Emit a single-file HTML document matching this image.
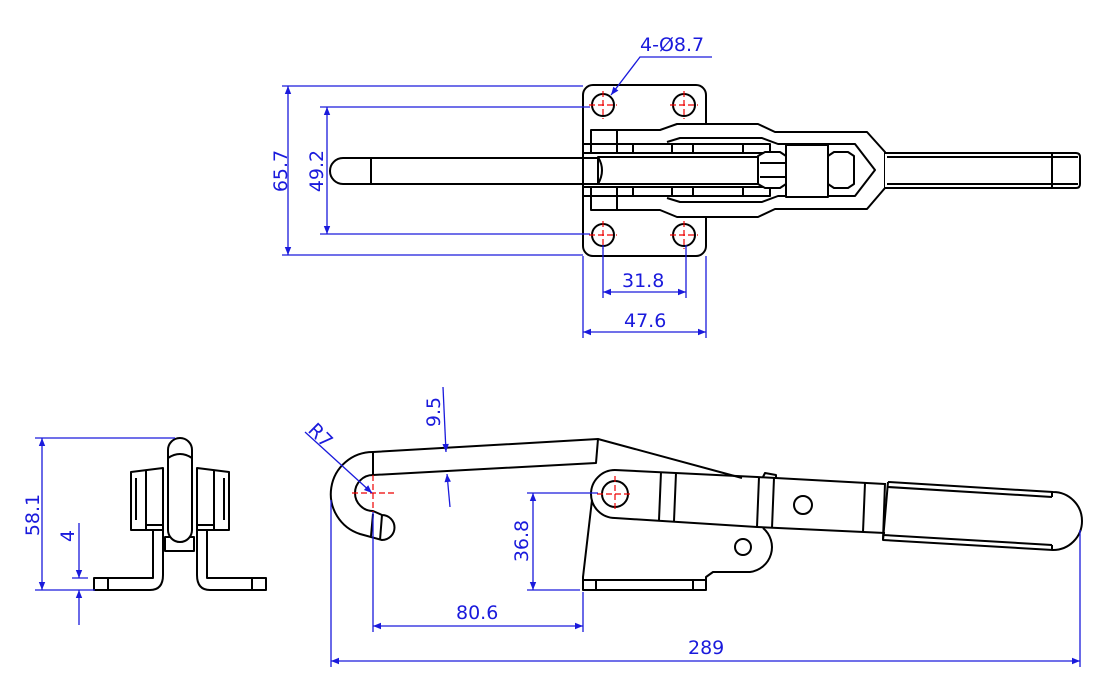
<!DOCTYPE html>
<html><head><meta charset="utf-8"><style>
html,body{margin:0;padding:0;background:#fff;}
svg{display:block;}
text{font-family:"DejaVu Sans","Liberation Sans",sans-serif;fill:#1a1adc;font-size:19px;}
</style></head><body>
<svg width="1110" height="700" viewBox="0 0 1110 700" xmlns="http://www.w3.org/2000/svg">
<defs>
<marker id="a" viewBox="0 0 10 10" refX="10" refY="5" markerWidth="14" markerHeight="8" markerUnits="userSpaceOnUse" orient="auto-start-reverse"><path d="M0,1 L10,5 L0,9 z" fill="#1a1adc"/></marker>
</defs>
<g stroke="#000" stroke-width="2" fill="none" stroke-linejoin="round">
<!-- TOP VIEW -->
<rect x="583" y="85" width="123" height="171" rx="10" fill="#fff"/>
<circle cx="603" cy="105" r="11"/><circle cx="684" cy="105" r="11"/>
<circle cx="603" cy="235" r="11"/><circle cx="684" cy="235" r="11"/>
<!-- rod -->
<path d="M371,158 L600,158 M371,184 L600,184 M371,158 L371,184 M371,158 L343,158 A13,13 0 0 0 343,184 L371,184"/>
<!-- outer arm -->
<path d="M617,130 L660,130 L677,124 L758,124 L775,132 L867,132 L885,152 L885,188 L867,209 L775,209 L758,217 L677,217 L660,210 L617,210" fill="#fff"/>
<path d="M667,142 L680,138 L762,138 L778,144 L855,144 L875,170 L855,196 L778,196 L762,202 L680,202 L667,198"/>
<!-- link pieces -->
<rect x="591" y="130" width="26" height="23" fill="#fff"/>
<rect x="591" y="187" width="26" height="23" fill="#fff"/>
<path d="M583,144 L770,144 L770,153 L583,153 M583,187 L770,187 L770,196 L583,196"/>
<path d="M633,144 L633,153 M672,144 L672,153 M693,144 L693,153 M743,144 L743,153 M633,187 L633,196 M672,187 L672,196 M693,187 L693,196 M743,187 L743,196"/>
<rect x="598" y="157" width="160" height="27" fill="#fff"/>
<path d="M598,157 Q606,170 598,184"/>
<path d="M758,156 L765,152 L780,152 L786,156 L786,184 L780,188 L765,188 L758,184 z" fill="#fff"/>
<path d="M760,163 L786,163 M760,177 L786,177"/>
<rect x="786" y="145" width="42" height="52" fill="#fff"/>
<path d="M828,156 L834,152 L848,152 L854,156 L854,184 L848,188 L834,188 L828,184 z" fill="#fff"/>
<!-- handle -->
<path d="M885,153 L1076,153 Q1080,153 1080,157 L1080,184 Q1080,188 1076,188 L885,188" fill="#fff"/>
<path d="M887,157 L1078,157 M887,184 L1078,184 M1052,153 L1052,188"/>

<!-- SIDE VIEW -->
<!-- hook arm -->
<path d="M373,452 L598,439 L742,478 M373,475 L596,463 L598,439 M373,452 L373,475"/>
<path d="M373,475 A18,18 0 0 0 373,511 L382,515 A12.5,12.5 0 0 1 382,540 L360,534 A42,42 0 0 1 373,452"/>
<path d="M373,514 L371,536 M382,515 L380,540"/>
<!-- body -->
<path d="M592,500 L583,577 L583,590 L706,590 L706,577 L713,572 L750,572 A25,25 0 0 0 763,528"/>
<path d="M583,580 L706,580 M596,580 L596,590 M693,580 L693,590"/>
<circle cx="743" cy="547" r="8"/>
<!-- link -->
<path d="M615,470 L757,477 L885,484 M615,518 L757,527 L885,533"/>
<path d="M615,470 A24,24 0 0 0 615,518"/>
<circle cx="615" cy="494" r="13" fill="#fff"/>
<path d="M661,472 L659,520 M676,473 L674,521 M759,477 L757,527 M774,478 L772,528 M865,483 L863,532"/>
<path d="M763,477 L765,473 L776,475 L776,479"/>
<circle cx="803" cy="505" r="9"/>
<!-- handle -->
<path d="M888,482 L1053,492 A29,29 0 0 1 1053,550 L883,540 L888,482"/>
<path d="M888,487 L1052,497 M883,535 L1052,545 M1052,492 L1052,497 M1052,545 L1052,550 M885,483 L883,540"/>

<!-- FRONT VIEW -->
<path d="M94,578 L153,578 L153,471 L163,471 L163,575 Q163,590 150,590 L94,590 z" fill="#fff"/>
<path d="M108,578 L108,590"/>
<path d="M266,578 L207,578 L207,471 L197,471 L197,575 Q197,590 210,590 L266,590 z" fill="#fff"/>
<path d="M252,578 L252,590"/>
<path d="M131,472 L163,468 L163,530 L131,530 z M197,468 L229,472 L229,530 L197,530 z" fill="#fff"/>
<path d="M136,478 L136,520 M224,478 L224,520 M146,470 L146,530 M214,470 L214,530 M147,525 L163,525 M197,525 L213,525"/>
<rect x="165" y="537" width="29" height="14" fill="#fff"/>
<rect x="168" y="438" width="24" height="104" rx="12" fill="#fff"/>
<path d="M168,458 Q180,450 192,458"/>
</g>

<!-- red center marks -->
<g stroke="#e00" stroke-width="1.2" stroke-dasharray="6,3" fill="none">
<path d="M589,105 L617,105 M603,91 L603,119 M670,105 L698,105 M684,91 L684,119 M589,235 L617,235 M603,221 L603,249 M670,235 L698,235 M684,221 L684,249"/>
<path d="M352,493 L396,493 M373,475 L373,512 M597,494 L633,494 M615,476 L615,512"/>
</g>

<!-- DIMENSIONS -->
<g stroke="#1a1adc" stroke-width="1.3" fill="none">
<path d="M282,86 L583,86 M282,255 L583,255 M320,107 L590,107 M320,234 L590,234"/>
<path d="M288,86 L288,255" marker-start="url(#a)" marker-end="url(#a)"/>
<path d="M327,107 L327,234" marker-start="url(#a)" marker-end="url(#a)"/>
<path d="M583,256 L583,338 M706,256 L706,338 M603,245 L603,298 M686,245 L686,298"/>
<path d="M603,292 L686,292" marker-start="url(#a)" marker-end="url(#a)"/>
<path d="M583,332 L706,332" marker-start="url(#a)" marker-end="url(#a)"/>
<path d="M712,57 L640,57 L611,95" marker-end="url(#a)"/>
<!-- side -->
<path d="M305,432 L372,493" marker-end="url(#a)"/>
<path d="M443,387 L446,452" marker-end="url(#a)"/>
<path d="M450,507 L447,474" marker-end="url(#a)"/>
<path d="M527,493 L598,493 M527,590 L580,590"/>
<path d="M533,493 L533,590" marker-start="url(#a)" marker-end="url(#a)"/>
<path d="M373,512 L373,632 M583,592 L583,632 M331,500 L331,667 M1080,530 L1080,667"/>
<path d="M373,626 L583,626" marker-start="url(#a)" marker-end="url(#a)"/>
<path d="M331,661 L1080,661" marker-start="url(#a)" marker-end="url(#a)"/>
<!-- front -->
<path d="M35,438 L175,438 M35,590 L95,590 M72,578 L88,578"/>
<path d="M42,438 L42,590" marker-start="url(#a)" marker-end="url(#a)"/>
<path d="M79,523 L79,578" marker-end="url(#a)"/>
<path d="M79,625 L79,590" marker-end="url(#a)"/>
</g>

<!-- labels -->
<text x="640" y="51">4-Ø8.7</text>
<text x="622" y="287">31.8</text>
<text x="624" y="327">47.6</text>
<text transform="translate(287,171) rotate(-90)" text-anchor="middle">65.7</text>
<text transform="translate(323,171) rotate(-90)" text-anchor="middle">49.2</text>
<text transform="translate(440,412) rotate(-90)" text-anchor="middle">9.5</text>
<text transform="translate(316,440) rotate(45)" text-anchor="middle">R7</text>
<text transform="translate(528,541) rotate(-90)" text-anchor="middle">36.8</text>
<text x="456" y="619">80.6</text>
<text x="688" y="654">289</text>
<text transform="translate(39,515) rotate(-90)" text-anchor="middle">58.1</text>
<text transform="translate(74,536) rotate(-90)" text-anchor="middle">4</text>
</svg>
</body></html>
